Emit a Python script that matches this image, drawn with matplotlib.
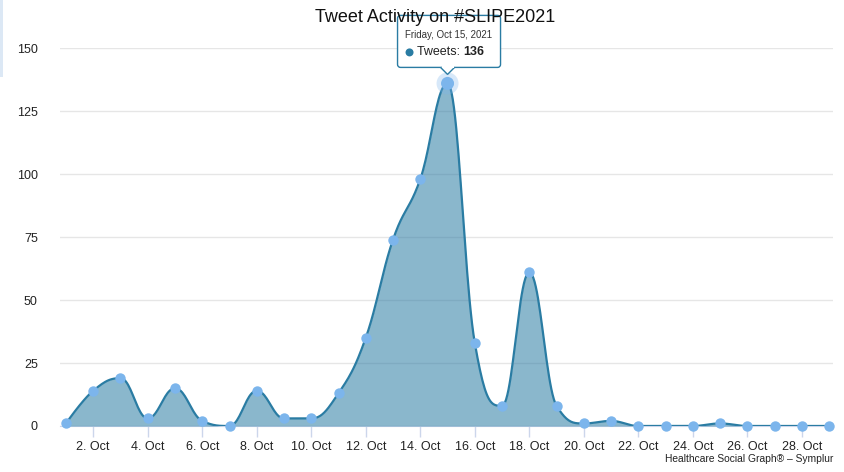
import numpy as np
import matplotlib.pyplot as plt
from matplotlib.patches import FancyBboxPatch, Polygon, Circle, Rectangle
from matplotlib.transforms import IdentityTransform

plt.rcParams['font.family'] = ['Liberation Sans', 'DejaVu Sans']

# Daily tweet counts for October 2021
days = list(range(1, 30))
tweets = [1, 14, 19, 3, 15, 2, 0, 14, 3, 3, 13, 35, 74, 98, 136, 33, 8, 61, 8, 1,
          2, 0, 0, 0, 1, 0, 0, 0, 0]
tick_days = list(range(2, 29, 2))
tick_labels = [f'{d}. Oct' for d in tick_days]
y_ticks = [0, 25, 50, 75, 100, 125, 150]
peak_label = 'Friday, Oct 15, 2021'

LINE = '#2a7ca3'
MARKER = '#7cb5ec'


def spline_path(x, y, steps=24):
    # Highcharts-style spline: bezier control points with smoothing 1.5
    x = np.asarray(x, float)
    y = np.asarray(y, float)
    n = len(x)
    lx, ly, rx, ry = x.copy(), y.copy(), x.copy(), y.copy()
    s, d = 1.5, 2.5
    for i in range(1, n - 1):
        px, py = x[i], y[i]
        a_x = (s * px + x[i - 1]) / d
        a_y = (s * py + y[i - 1]) / d
        b_x = (s * px + x[i + 1]) / d
        b_y = (s * py + y[i + 1]) / d
        corr = (b_y - a_y) * (b_x - px) / (b_x - a_x) + py - b_y
        a_y += corr
        b_y += corr
        if a_y > y[i - 1] and a_y > py:
            a_y = max(y[i - 1], py)
            b_y = 2 * py - a_y
        elif a_y < y[i - 1] and a_y < py:
            a_y = min(y[i - 1], py)
            b_y = 2 * py - a_y
        if b_y > y[i + 1] and b_y > py:
            b_y = max(y[i + 1], py)
            a_y = 2 * py - b_y
        elif b_y < y[i + 1] and b_y < py:
            b_y = min(y[i + 1], py)
            a_y = 2 * py - b_y
        lx[i], ly[i], rx[i], ry[i] = a_x, a_y, b_x, b_y
    t = np.linspace(0, 1, steps)[:, None]
    xs, ys = [], []
    for i in range(n - 1):
        p0 = np.array([x[i], y[i]])
        p1 = np.array([rx[i], ry[i]])
        p2 = np.array([lx[i + 1], ly[i + 1]])
        p3 = np.array([x[i + 1], y[i + 1]])
        pts = ((1 - t) ** 3) * p0 + 3 * ((1 - t) ** 2) * t * p1 + 3 * (1 - t) * t ** 2 * p2 + t ** 3 * p3
        if i > 0:
            pts = pts[1:]
        xs.append(pts[:, 0])
        ys.append(pts[:, 1])
    return np.concatenate(xs), np.concatenate(ys)


fig = plt.figure(figsize=(8.45, 4.72), dpi=100)
ax = fig.add_axes([0.071, 0.0975, 0.915, 0.8005])

sx, sy = spline_path(days, tweets)
ax.fill_between(sx, 0, sy, color=LINE, alpha=0.55, lw=0, zorder=2)
ax.plot(sx, sy, color=LINE, lw=1.6, zorder=3)
ax.plot(days, tweets, 'o', color=MARKER, ms=7.5, mec='none', zorder=4, clip_on=False)

ax.set_xlim(0.78, 29.15)
ax.set_ylim(0, 150)
ax.set_yticks(y_ticks)
ax.set_xticks(tick_days)
ax.set_xticklabels(tick_labels)
ax.grid(axis='y', color='#e6e6e6', lw=1, zorder=0)
for side in ('top', 'right', 'left'):
    ax.spines[side].set_visible(False)
ax.spines['bottom'].set_color('#ccd6eb')
ax.spines['bottom'].set_zorder(1)
ax.tick_params(axis='x', colors='#ccd6eb', length=8, width=1, labelcolor='#222222',
               labelsize=9, pad=3)
ax.tick_params(axis='y', length=0, labelcolor='#222222', labelsize=9, pad=16)

fig.text(0.515, 0.963, 'Tweet Activity on #SLIPE2021', ha='center', va='center',
         fontsize=13, color='#111111')
fig.text(0.986, 0.018, 'Healthcare Social Graph® – Symplur', ha='right', va='bottom',
         fontsize=7.4, color='#222222')
fig.patches.append(Rectangle((0, 0.837), 0.004, 0.163, transform=fig.transFigure,
                             color='#dce8f5', lw=0))

# Hover tooltip on the peak day
i_peak = int(np.argmax(tweets))
fig.canvas.draw()
px, py = ax.transData.transform((days[i_peak], tweets[i_peak]))
ident = IdentityTransform()
ax.add_patch(Circle((px, py), 11, transform=ident, color=MARKER, alpha=0.3,
                    lw=0, zorder=5, clip_on=False))
ax.add_patch(Circle((px, py), 6.5, transform=ident, color=MARKER, lw=0,
                    zorder=6, clip_on=False))

bx0, bx1, by0, by1 = px - 50, px + 53, py + 16, py + 68
box = FancyBboxPatch((bx0, by0), bx1 - bx0, by1 - by0, boxstyle='round,pad=0,rounding_size=3',
                     transform=ident, fc='white', ec=LINE, lw=1, zorder=7, clip_on=False)
ax.add_patch(box)
ax.add_patch(Polygon([(px - 7, by0), (px, py + 9), (px + 7, by0)], closed=False,
                     transform=ident, fc='white', ec=LINE, lw=1, zorder=8, clip_on=False))
ax.add_patch(Rectangle((px - 6, by0 - 0.2), 12, 1.6, transform=ident, fc='white',
                       lw=0, zorder=9, clip_on=False))
ax.text(bx0 + 7, py + 48, peak_label, transform=ident, fontsize=7, color='#333333',
        va='center', ha='left', zorder=10)
ax.add_patch(Circle((bx0 + 12, py + 31), 4, transform=ident, color=LINE, lw=0,
                    zorder=10, clip_on=False))
t1 = ax.text(bx0 + 19, py + 31, 'Tweets: ', transform=ident, fontsize=9,
             color='#222222', va='center', ha='left', zorder=10)
fig.canvas.draw()
ext = t1.get_window_extent()
ax.text(ext.x1, py + 31, f'{tweets[i_peak]}', transform=ident, fontsize=9,
        fontweight='bold', color='#222222', va='center', ha='left', zorder=10)

fig.savefig('out.png', dpi=100)
